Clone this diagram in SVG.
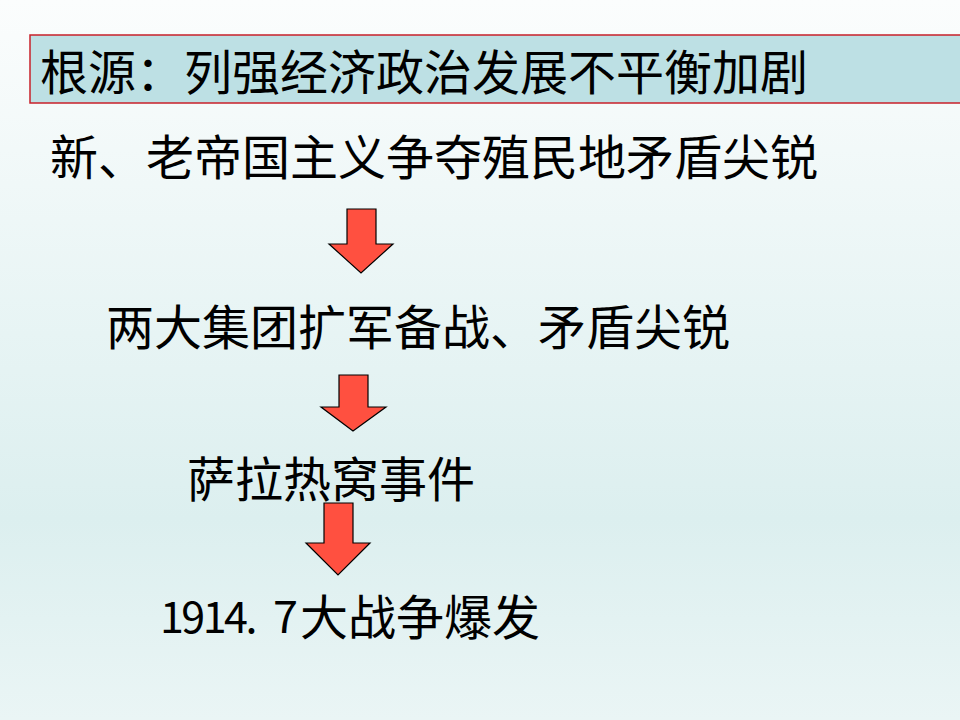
<svg xmlns="http://www.w3.org/2000/svg" width="960" height="720" viewBox="0 0 960 720">
<defs>
<linearGradient id="bg" x1="0" y1="0" x2="0" y2="1">
<stop offset="0" stop-color="#fbfdfd"/>
<stop offset="0.72" stop-color="#dcefef"/>
<stop offset="1" stop-color="#eaf5f5"/>
</linearGradient>
<style>
.t{font-family:"Noto Sans CJK SC","Liberation Sans",sans-serif;font-size:48px;fill:#000}
.arr{fill:#ff5040;stroke:#000;stroke-width:1.2;stroke-linejoin:miter}
</style>
</defs>
<rect x="0" y="0" width="960" height="720" fill="url(#bg)"/>
<g id="title">
<rect x="30" y="35" width="945" height="68" fill="#bde0e4" stroke="#c8202a" stroke-width="1.5"/>
<text class="t" x="40" y="90">根源：列强经济政治发展不平衡加剧</text>
</g>
<g id="n1"><text class="t" x="50" y="175">新、老帝国主义争夺殖民地矛盾尖锐</text></g>
<g id="n2"><text class="t" x="106" y="345">两大集团扩军备战、矛盾尖锐</text></g>
<g id="n3"><text class="t" x="187" y="497">萨拉热窝事件</text></g>
<g id="n4"><text class="t" x="160" y="633" style="font-size:43px;letter-spacing:-2.5px">1914.</text><text class="t" x="273" y="633" style="font-size:45px">7</text><text class="t" x="300" y="635">大战争爆发</text></g>
<g id="connectors">
<polygon class="arr" points="347,209 376,209 376,244 393,244 361,273 329,244 347,244"/>
<polygon class="arr" points="339,375 368,375 368,407 386,407 353,431 321,407 339,407"/>
<polygon class="arr" points="324,503 353,503 353,543 370,543 338,575 306,543 324,543"/>
</g>
</svg>
